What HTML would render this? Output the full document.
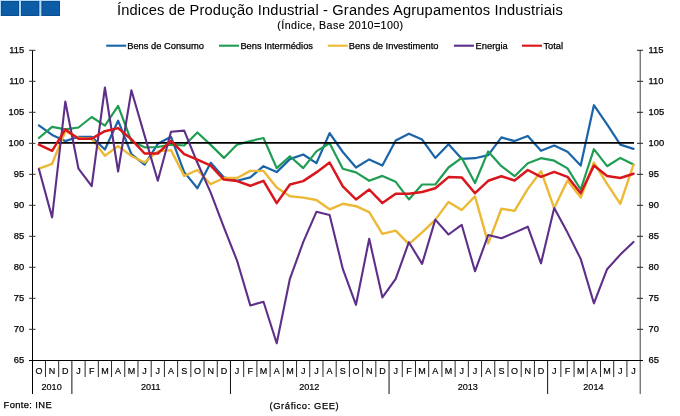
<!DOCTYPE html><html><head><meta charset="utf-8"><title>Índices de Produção Industrial</title>
<style>html,body{margin:0;padding:0;background:#fff}svg{display:block}text{font-family:"Liberation Sans",sans-serif;fill:#000;stroke:#000;stroke-width:0.25px}#title{stroke-width:0}#sub{stroke-width:0.15px}.ax{stroke-width:0.18px}</style></head><body>
<svg width="680" height="416" viewBox="0 0 680 416">
<rect width="680" height="416" fill="#fff"/>
<rect x="0" y="0" width="60" height="16" fill="#b2daf8"/>
<rect x="1.0" y="1" width="18.0" height="15" fill="#0a4f92"/>
<rect x="2.0" y="2" width="16.0" height="13" fill="#0d5ca6"/>
<rect x="21.0" y="1" width="18.3" height="15" fill="#0a4f92"/>
<rect x="22.0" y="2" width="16.3" height="13" fill="#0d5ca6"/>
<rect x="41.4" y="1" width="18.6" height="15" fill="#0a4f92"/>
<rect x="42.4" y="2" width="16.6" height="13" fill="#0d5ca6"/>
<text x="117" y="14.6" font-size="14.67" letter-spacing="0.155" id="title">Índices de Produção Industrial - Grandes Agrupamentos Industriais</text>
<text x="277.3" y="29" font-size="10.67" letter-spacing="0.43" id="sub">(Índice, Base 2010=100)</text>
<line x1="106.2" y1="45.7" x2="126.2" y2="45.7" stroke="#1a64a8" stroke-width="2.1"/>
<text x="127.2" y="48.9" font-size="9.33" class="lg">Bens de Consumo</text>
<line x1="219.0" y1="45.7" x2="239.0" y2="45.7" stroke="#1f9e53" stroke-width="2.1"/>
<text x="240.4" y="48.9" font-size="9.33" class="lg">Bens Intermédios</text>
<line x1="327.8" y1="45.7" x2="347.8" y2="45.7" stroke="#ecb936" stroke-width="2.1"/>
<text x="348.8" y="48.9" font-size="9.33" class="lg">Bens de Investimento</text>
<line x1="453.9" y1="45.7" x2="473.9" y2="45.7" stroke="#5e2f88" stroke-width="2.1"/>
<text x="475.6" y="48.9" font-size="9.33" class="lg">Energia</text>
<line x1="522.0" y1="45.7" x2="542.0" y2="45.7" stroke="#d8161b" stroke-width="2.1"/>
<text x="543.4" y="48.9" font-size="9.33" class="lg">Total</text>
<g stroke="#000" stroke-width="1" fill="none">
<line x1="32.5" y1="50" x2="32.5" y2="394"/>
<line x1="640.2" y1="50" x2="640.2" y2="394" stroke="#404040"/>
<line x1="29" y1="360.5" x2="643" y2="360.5"/>
<line x1="29" y1="50.3" x2="35.5" y2="50.3" stroke="#333"/>
<line x1="637" y1="50.3" x2="643" y2="50.3" stroke="#222"/>
<line x1="29" y1="81.3" x2="35.5" y2="81.3" stroke="#333"/>
<line x1="637" y1="81.3" x2="643" y2="81.3" stroke="#222"/>
<line x1="29" y1="112.3" x2="35.5" y2="112.3" stroke="#333"/>
<line x1="637" y1="112.3" x2="643" y2="112.3" stroke="#222"/>
<line x1="29" y1="143.3" x2="35.5" y2="143.3" stroke="#333"/>
<line x1="637" y1="143.3" x2="643" y2="143.3" stroke="#222"/>
<line x1="29" y1="174.3" x2="35.5" y2="174.3" stroke="#333"/>
<line x1="637" y1="174.3" x2="643" y2="174.3" stroke="#222"/>
<line x1="29" y1="205.3" x2="35.5" y2="205.3" stroke="#333"/>
<line x1="637" y1="205.3" x2="643" y2="205.3" stroke="#222"/>
<line x1="29" y1="236.3" x2="35.5" y2="236.3" stroke="#333"/>
<line x1="637" y1="236.3" x2="643" y2="236.3" stroke="#222"/>
<line x1="29" y1="267.3" x2="35.5" y2="267.3" stroke="#333"/>
<line x1="637" y1="267.3" x2="643" y2="267.3" stroke="#222"/>
<line x1="29" y1="298.3" x2="35.5" y2="298.3" stroke="#333"/>
<line x1="637" y1="298.3" x2="643" y2="298.3" stroke="#222"/>
<line x1="29" y1="329.3" x2="35.5" y2="329.3" stroke="#333"/>
<line x1="637" y1="329.3" x2="643" y2="329.3" stroke="#222"/>
<line x1="45.47" y1="360.5" x2="45.47" y2="377" stroke="#2a2a2a"/>
<line x1="58.68" y1="360.5" x2="58.68" y2="377" stroke="#2a2a2a"/>
<line x1="71.89" y1="360.5" x2="71.89" y2="394" stroke="#111"/>
<line x1="85.11" y1="360.5" x2="85.11" y2="377" stroke="#2a2a2a"/>
<line x1="98.33" y1="360.5" x2="98.33" y2="377" stroke="#2a2a2a"/>
<line x1="111.54" y1="360.5" x2="111.54" y2="377" stroke="#2a2a2a"/>
<line x1="124.75" y1="360.5" x2="124.75" y2="377" stroke="#2a2a2a"/>
<line x1="137.97" y1="360.5" x2="137.97" y2="377" stroke="#2a2a2a"/>
<line x1="151.19" y1="360.5" x2="151.19" y2="377" stroke="#2a2a2a"/>
<line x1="164.40" y1="360.5" x2="164.40" y2="377" stroke="#2a2a2a"/>
<line x1="177.62" y1="360.5" x2="177.62" y2="377" stroke="#2a2a2a"/>
<line x1="190.83" y1="360.5" x2="190.83" y2="377" stroke="#2a2a2a"/>
<line x1="204.04" y1="360.5" x2="204.04" y2="377" stroke="#2a2a2a"/>
<line x1="217.26" y1="360.5" x2="217.26" y2="377" stroke="#2a2a2a"/>
<line x1="230.47" y1="360.5" x2="230.47" y2="394" stroke="#111"/>
<line x1="243.69" y1="360.5" x2="243.69" y2="377" stroke="#2a2a2a"/>
<line x1="256.90" y1="360.5" x2="256.90" y2="377" stroke="#2a2a2a"/>
<line x1="270.12" y1="360.5" x2="270.12" y2="377" stroke="#2a2a2a"/>
<line x1="283.34" y1="360.5" x2="283.34" y2="377" stroke="#2a2a2a"/>
<line x1="296.55" y1="360.5" x2="296.55" y2="377" stroke="#2a2a2a"/>
<line x1="309.76" y1="360.5" x2="309.76" y2="377" stroke="#2a2a2a"/>
<line x1="322.98" y1="360.5" x2="322.98" y2="377" stroke="#2a2a2a"/>
<line x1="336.19" y1="360.5" x2="336.19" y2="377" stroke="#2a2a2a"/>
<line x1="349.41" y1="360.5" x2="349.41" y2="377" stroke="#2a2a2a"/>
<line x1="362.62" y1="360.5" x2="362.62" y2="377" stroke="#2a2a2a"/>
<line x1="375.84" y1="360.5" x2="375.84" y2="377" stroke="#2a2a2a"/>
<line x1="389.06" y1="360.5" x2="389.06" y2="394" stroke="#111"/>
<line x1="402.27" y1="360.5" x2="402.27" y2="377" stroke="#2a2a2a"/>
<line x1="415.49" y1="360.5" x2="415.49" y2="377" stroke="#2a2a2a"/>
<line x1="428.70" y1="360.5" x2="428.70" y2="377" stroke="#2a2a2a"/>
<line x1="441.92" y1="360.5" x2="441.92" y2="377" stroke="#2a2a2a"/>
<line x1="455.13" y1="360.5" x2="455.13" y2="377" stroke="#2a2a2a"/>
<line x1="468.34" y1="360.5" x2="468.34" y2="377" stroke="#2a2a2a"/>
<line x1="481.56" y1="360.5" x2="481.56" y2="377" stroke="#2a2a2a"/>
<line x1="494.77" y1="360.5" x2="494.77" y2="377" stroke="#2a2a2a"/>
<line x1="507.99" y1="360.5" x2="507.99" y2="377" stroke="#2a2a2a"/>
<line x1="521.20" y1="360.5" x2="521.20" y2="377" stroke="#2a2a2a"/>
<line x1="534.42" y1="360.5" x2="534.42" y2="377" stroke="#2a2a2a"/>
<line x1="547.63" y1="360.5" x2="547.63" y2="394" stroke="#111"/>
<line x1="560.85" y1="360.5" x2="560.85" y2="377" stroke="#2a2a2a"/>
<line x1="574.06" y1="360.5" x2="574.06" y2="377" stroke="#2a2a2a"/>
<line x1="587.28" y1="360.5" x2="587.28" y2="377" stroke="#2a2a2a"/>
<line x1="600.50" y1="360.5" x2="600.50" y2="377" stroke="#2a2a2a"/>
<line x1="613.71" y1="360.5" x2="613.71" y2="377" stroke="#2a2a2a"/>
<line x1="626.92" y1="360.5" x2="626.92" y2="377" stroke="#2a2a2a"/>
</g>
<text x="24.2" y="52.8" font-size="9.33" text-anchor="end">115</text>
<text x="648.5" y="52.8" font-size="9.33">115</text>
<text x="24.2" y="83.8" font-size="9.33" text-anchor="end">110</text>
<text x="648.5" y="83.8" font-size="9.33">110</text>
<text x="24.2" y="114.8" font-size="9.33" text-anchor="end">105</text>
<text x="648.5" y="114.8" font-size="9.33">105</text>
<text x="24.2" y="145.8" font-size="9.33" text-anchor="end">100</text>
<text x="648.5" y="145.8" font-size="9.33">100</text>
<text x="24.2" y="176.8" font-size="9.33" text-anchor="end">95</text>
<text x="648.5" y="176.8" font-size="9.33">95</text>
<text x="24.2" y="207.8" font-size="9.33" text-anchor="end">90</text>
<text x="648.5" y="207.8" font-size="9.33">90</text>
<text x="24.2" y="238.8" font-size="9.33" text-anchor="end">85</text>
<text x="648.5" y="238.8" font-size="9.33">85</text>
<text x="24.2" y="269.8" font-size="9.33" text-anchor="end">80</text>
<text x="648.5" y="269.8" font-size="9.33">80</text>
<text x="24.2" y="300.8" font-size="9.33" text-anchor="end">75</text>
<text x="648.5" y="300.8" font-size="9.33">75</text>
<text x="24.2" y="331.8" font-size="9.33" text-anchor="end">70</text>
<text x="648.5" y="331.8" font-size="9.33">70</text>
<text x="24.2" y="362.8" font-size="9.33" text-anchor="end">65</text>
<text x="648.5" y="362.8" font-size="9.33">65</text>
<text x="38.9" y="374.1" font-size="9" text-anchor="middle" class="ax">O</text>
<text x="52.1" y="374.1" font-size="9" text-anchor="middle" class="ax">N</text>
<text x="65.3" y="374.1" font-size="9" text-anchor="middle" class="ax">D</text>
<text x="78.5" y="374.1" font-size="9" text-anchor="middle" class="ax">J</text>
<text x="91.7" y="374.1" font-size="9" text-anchor="middle" class="ax">F</text>
<text x="104.9" y="374.1" font-size="9" text-anchor="middle" class="ax">M</text>
<text x="118.1" y="374.1" font-size="9" text-anchor="middle" class="ax">A</text>
<text x="131.4" y="374.1" font-size="9" text-anchor="middle" class="ax">M</text>
<text x="144.6" y="374.1" font-size="9" text-anchor="middle" class="ax">J</text>
<text x="157.8" y="374.1" font-size="9" text-anchor="middle" class="ax">J</text>
<text x="171.0" y="374.1" font-size="9" text-anchor="middle" class="ax">A</text>
<text x="184.2" y="374.1" font-size="9" text-anchor="middle" class="ax">S</text>
<text x="197.4" y="374.1" font-size="9" text-anchor="middle" class="ax">O</text>
<text x="210.7" y="374.1" font-size="9" text-anchor="middle" class="ax">N</text>
<text x="223.9" y="374.1" font-size="9" text-anchor="middle" class="ax">D</text>
<text x="237.1" y="374.1" font-size="9" text-anchor="middle" class="ax">J</text>
<text x="250.3" y="374.1" font-size="9" text-anchor="middle" class="ax">F</text>
<text x="263.5" y="374.1" font-size="9" text-anchor="middle" class="ax">M</text>
<text x="276.7" y="374.1" font-size="9" text-anchor="middle" class="ax">A</text>
<text x="289.9" y="374.1" font-size="9" text-anchor="middle" class="ax">M</text>
<text x="303.2" y="374.1" font-size="9" text-anchor="middle" class="ax">J</text>
<text x="316.4" y="374.1" font-size="9" text-anchor="middle" class="ax">J</text>
<text x="329.6" y="374.1" font-size="9" text-anchor="middle" class="ax">A</text>
<text x="342.8" y="374.1" font-size="9" text-anchor="middle" class="ax">S</text>
<text x="356.0" y="374.1" font-size="9" text-anchor="middle" class="ax">O</text>
<text x="369.2" y="374.1" font-size="9" text-anchor="middle" class="ax">N</text>
<text x="382.4" y="374.1" font-size="9" text-anchor="middle" class="ax">D</text>
<text x="395.7" y="374.1" font-size="9" text-anchor="middle" class="ax">J</text>
<text x="408.9" y="374.1" font-size="9" text-anchor="middle" class="ax">F</text>
<text x="422.1" y="374.1" font-size="9" text-anchor="middle" class="ax">M</text>
<text x="435.3" y="374.1" font-size="9" text-anchor="middle" class="ax">A</text>
<text x="448.5" y="374.1" font-size="9" text-anchor="middle" class="ax">M</text>
<text x="461.7" y="374.1" font-size="9" text-anchor="middle" class="ax">J</text>
<text x="475.0" y="374.1" font-size="9" text-anchor="middle" class="ax">J</text>
<text x="488.2" y="374.1" font-size="9" text-anchor="middle" class="ax">A</text>
<text x="501.4" y="374.1" font-size="9" text-anchor="middle" class="ax">S</text>
<text x="514.6" y="374.1" font-size="9" text-anchor="middle" class="ax">O</text>
<text x="527.8" y="374.1" font-size="9" text-anchor="middle" class="ax">N</text>
<text x="541.0" y="374.1" font-size="9" text-anchor="middle" class="ax">D</text>
<text x="554.2" y="374.1" font-size="9" text-anchor="middle" class="ax">J</text>
<text x="567.5" y="374.1" font-size="9" text-anchor="middle" class="ax">F</text>
<text x="580.7" y="374.1" font-size="9" text-anchor="middle" class="ax">M</text>
<text x="593.9" y="374.1" font-size="9" text-anchor="middle" class="ax">A</text>
<text x="607.1" y="374.1" font-size="9" text-anchor="middle" class="ax">M</text>
<text x="620.3" y="374.1" font-size="9" text-anchor="middle" class="ax">J</text>
<text x="633.5" y="374.1" font-size="9" text-anchor="middle" class="ax">J</text>
<text x="51.6" y="390.4" font-size="9.1" text-anchor="middle" class="ax">2010</text>
<text x="150.7" y="390.4" font-size="9.1" text-anchor="middle" class="ax">2011</text>
<text x="309.3" y="390.4" font-size="9.1" text-anchor="middle" class="ax">2012</text>
<text x="467.8" y="390.4" font-size="9.1" text-anchor="middle" class="ax">2013</text>
<text x="593.4" y="390.4" font-size="9.1" text-anchor="middle" class="ax">2014</text>
<text x="3.6" y="407.9" font-size="9.33" letter-spacing="0.38">Fonte: INE</text>
<text x="269.5" y="408.8" font-size="9.33" letter-spacing="0.62">(Gráfico: GEE)</text>
<g fill="none" stroke-linejoin="round" stroke-linecap="round">
<polyline points="38.9,125.3 52.1,134.9 65.3,141.1 78.5,136.8 91.7,136.8 104.9,149.5 118.1,120.7 131.4,154.2 144.6,164.7 157.8,143.8 171.0,136.8 184.2,172.1 197.4,188.3 210.7,162.8 223.9,177.4 237.1,180.8 250.3,177.4 263.5,166.2 276.7,172.1 289.9,159.1 303.2,154.5 316.4,163.2 329.6,133.1 342.8,152.0 356.0,167.5 369.2,159.4 382.4,165.6 395.7,140.5 408.9,133.7 422.1,139.6 435.3,157.9 448.5,144.2 461.7,158.8 475.0,158.2 488.2,155.1 501.4,137.4 514.6,141.1 527.8,135.9 541.0,150.8 554.2,145.5 567.5,151.7 580.7,165.6 593.9,105.2 607.1,124.4 620.3,144.6 633.5,148.9" stroke="#1a64a8" stroke-width="2.2"/>
<polyline points="38.9,138.0 52.1,126.9 65.3,129.4 78.5,127.5 91.7,117.0 104.9,125.6 118.1,105.8 131.4,141.1 144.6,147.3 157.8,147.0 171.0,144.6 184.2,145.5 197.4,132.5 210.7,144.9 223.9,157.9 237.1,144.6 250.3,141.1 263.5,138.0 276.7,168.1 289.9,156.3 303.2,168.1 316.4,151.4 329.6,143.3 342.8,168.7 356.0,172.4 369.2,180.8 382.4,175.9 395.7,181.8 408.9,199.4 422.1,184.5 435.3,184.5 448.5,167.5 461.7,157.9 475.0,183.0 488.2,151.4 501.4,166.2 514.6,176.2 527.8,163.2 541.0,158.2 554.2,160.7 567.5,168.4 580.7,189.5 593.9,149.2 607.1,166.2 620.3,157.9 633.5,164.4" stroke="#1f9e53" stroke-width="2.2"/>
<polyline points="38.9,168.7 52.1,163.8 65.3,131.2 78.5,138.0 91.7,138.7 104.9,155.7 118.1,146.1 131.4,156.0 144.6,162.5 157.8,151.4 171.0,150.1 184.2,175.9 197.4,170.0 210.7,184.2 223.9,178.0 237.1,178.0 250.3,170.9 263.5,170.9 276.7,187.6 289.9,196.3 303.2,197.6 316.4,200.0 329.6,209.3 342.8,203.8 356.0,206.2 369.2,212.1 382.4,233.8 395.7,230.7 408.9,244.1 422.1,232.3 435.3,219.9 448.5,201.9 461.7,210.0 475.0,196.3 488.2,243.4 501.4,208.7 514.6,210.9 527.8,188.9 541.0,171.2 554.2,208.1 567.5,180.5 580.7,197.6 593.9,162.5 607.1,183.9 620.3,203.8 633.5,164.7" stroke="#ecb936" stroke-width="2.4"/>
<line x1="38.4" y1="142.95" x2="634.0" y2="142.95" stroke="#000" stroke-width="1.75" stroke-linecap="butt"/>
<polyline points="38.9,169.0 52.1,217.4 65.3,101.5 78.5,168.7 91.7,186.1 104.9,87.5 118.1,171.5 131.4,90.3 144.6,135.6 157.8,180.8 171.0,131.8 184.2,130.6 197.4,162.8 210.7,192.6 223.9,227.3 237.1,260.8 250.3,305.4 263.5,301.7 276.7,343.3 289.9,278.8 303.2,242.2 316.4,211.8 329.6,214.9 342.8,268.9 356.0,304.8 369.2,238.8 382.4,297.4 395.7,278.8 408.9,242.2 422.1,263.9 435.3,219.6 448.5,234.5 461.7,224.8 475.0,271.3 488.2,235.1 501.4,238.2 514.6,232.6 527.8,226.7 541.0,263.3 554.2,208.1 567.5,232.6 580.7,258.9 593.9,303.3 607.1,269.2 620.3,254.6 633.5,241.9" stroke="#5e2f88" stroke-width="2.1"/>
<polyline points="38.9,144.6 52.1,150.8 65.3,129.4 78.5,138.7 91.7,138.7 104.9,131.2 118.1,128.1 131.4,139.3 144.6,153.5 157.8,153.5 171.0,140.8 184.2,154.2 197.4,159.7 210.7,165.6 223.9,179.6 237.1,181.1 250.3,185.8 263.5,180.8 276.7,203.1 289.9,184.5 303.2,181.1 316.4,172.4 329.6,162.5 342.8,186.4 356.0,199.4 369.2,189.5 382.4,203.1 395.7,193.8 408.9,193.8 422.1,192.0 435.3,188.3 448.5,177.1 461.7,177.4 475.0,193.2 488.2,180.8 501.4,176.2 514.6,180.5 527.8,170.0 541.0,176.8 554.2,171.8 567.5,176.8 580.7,193.2 593.9,165.6 607.1,175.9 620.3,178.0 633.5,173.7" stroke="#d8161b" stroke-width="2.5"/>
</g>
</svg></body></html>
